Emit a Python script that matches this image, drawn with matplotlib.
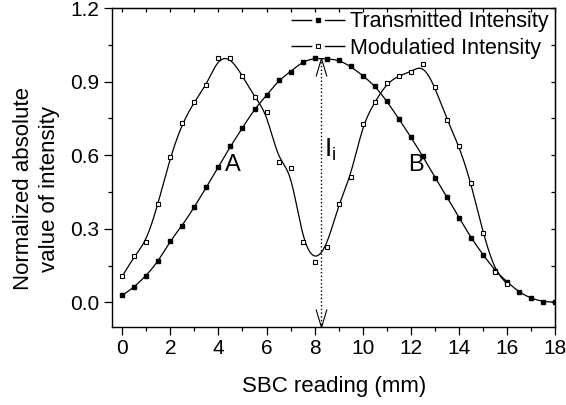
import numpy as np
import matplotlib
matplotlib.use('Agg')
import matplotlib.pyplot as plt
from matplotlib.path import Path
from matplotlib.ticker import MultipleLocator

plt.rcParams['font.family'] = ['Liberation Sans', 'DejaVu Sans']

# ---data
x_trans = np.arange(0, 18.01, 0.5)
y_trans = [0.028, 0.062, 0.109, 0.167, 0.251, 0.313, 0.389, 0.469, 0.553, 0.636,
           0.712, 0.788, 0.844, 0.905, 0.941, 0.982, 0.996, 0.993, 0.989, 0.962,
           0.925, 0.883, 0.821, 0.748, 0.674, 0.595, 0.508, 0.430, 0.345, 0.263,
           0.194, 0.129, 0.083, 0.041, 0.016, 0.002, 0.001]

x_mod = np.arange(0, 16.01, 0.5)
y_mod = [0.106, 0.187, 0.247, 0.403, 0.593, 0.731, 0.818, 0.886, 0.998, 0.998,
         0.924, 0.838, 0.775, 0.573, 0.546, 0.247, 0.166, 0.224, 0.402, 0.512,
         0.727, 0.817, 0.894, 0.924, 0.940, 0.971, 0.879, 0.744, 0.639, 0.487,
         0.281, 0.125, 0.076]

peak_x = 8.27
peak_y = 0.996


def bspline(x, y, n=30):
	# uniform cubic b-spline with the points as control points (Origin style)
	P = np.column_stack([x, y]).astype(float)
	P = np.vstack([P[:1], P[:1], P, P[-1:], P[-1:]])
	t = np.linspace(0, 1, n)
	b0 = (1 - t) ** 3 / 6
	b1 = (3 * t ** 3 - 6 * t ** 2 + 4) / 6
	b2 = (-3 * t ** 3 + 3 * t ** 2 + 3 * t + 1) / 6
	b3 = t ** 3 / 6
	out = []
	for i in range(len(P) - 3):
		seg = (np.outer(b0, P[i]) + np.outer(b1, P[i + 1]) +
		       np.outer(b2, P[i + 2]) + np.outer(b3, P[i + 3]))
		out.append(seg)
	out = np.vstack(out)
	return out[:, 0], out[:, 1]


fig = plt.figure(figsize=(5.66, 4.05), dpi=100)
ax = fig.add_axes([0.198, 0.193, 0.783, 0.787])

cx, cy = bspline(x_trans, y_trans)
ax.plot(cx, cy, color='black', lw=0.9)
ax.plot(x_trans, y_trans, ls='none', marker='s', ms=3.2, color='black')
cx, cy = bspline(x_mod, y_mod)
ax.plot(cx, cy, color='black', lw=0.9)
ax.plot(x_mod, y_mod, ls='none', marker='s', ms=3.0, mfc='white', mec='black', mew=0.8)

# legend handles: dash - marker - dash
ax.plot([], [], color='black', lw=1.0, ls=(0, (15, 9)), marker='s', ms=3.2,
        label='Transmitted Intensity')
ax.plot([], [], color='black', lw=1.0, ls=(0, (15, 9)), marker='s', ms=3.0, mfc='white',
        mew=0.8, label='Modulatied Intensity')
h, l = ax.get_legend_handles_labels()
ax.legend(h[-2:], l[-2:], loc='upper right', bbox_to_anchor=(1.015, 1.03), frameon=False,
          fontsize=15.5, handlelength=2.5, handletextpad=0.25, labelspacing=0.25,
          borderaxespad=0.2)

# dotted guide with open arrow heads
ax.plot([peak_x, peak_x], [peak_y, -0.1], ls=':', color='black', lw=1)
vee_up = Path([(-0.3, -1), (0, 0), (0.3, -1)], [Path.MOVETO, Path.LINETO, Path.LINETO])
vee_dn = Path([(-0.3, 1), (0, 0), (0.3, 1)], [Path.MOVETO, Path.LINETO, Path.LINETO])
ax.plot([peak_x], [peak_y], marker=vee_up, ms=26, mfc='none', mec='black', mew=0.8,
        clip_on=False)
ax.plot([peak_x], [-0.1], marker=vee_dn, ms=26, mfc='none', mec='black', mew=0.8,
        clip_on=False)

ax.text(8.65, 0.62, r'$\mathregular{I_i}$', fontsize=19, ha='center', va='center')
ax.text(4.6, 0.56, 'A', fontsize=17, ha='center', va='center')
ax.text(12.2, 0.56, 'B', fontsize=17, ha='center', va='center')

ax.set_xlim(-0.42, 18)
ax.set_ylim(-0.1, 1.2)
ax.xaxis.set_major_locator(MultipleLocator(2))
ax.xaxis.set_minor_locator(MultipleLocator(1))
ax.yaxis.set_major_locator(MultipleLocator(0.3))
ax.yaxis.set_minor_locator(MultipleLocator(0.15))
ax.set_yticks([0.0, 0.3, 0.6, 0.9, 1.2])
ax.set_yticklabels(['0.0', '0.3', '0.6', '0.9', '1.2'])
ax.tick_params(which='both', direction='out', top=False, right=False, labelsize=15, width=0.9)
ax.tick_params(which='major', length=6, pad=3)
ax.tick_params(which='minor', length=3)

# inward ticks on top and right like Origin
sec = ax.secondary_xaxis('top')
sec.xaxis.set_major_locator(MultipleLocator(1))
sec.tick_params(direction='in', length=3, labeltop=False, width=0.9)
secy = ax.secondary_yaxis('right')
secy.yaxis.set_major_locator(MultipleLocator(0.15))
secy.tick_params(direction='in', length=3, labelright=False, width=0.9)
for s in ax.spines.values():
	s.set_linewidth(1.0)

ax.set_xlabel('SBC reading (mm)', fontsize=16, labelpad=13)
ax.set_ylabel('Normalized absolute\nvalue of intensity', fontsize=16, linespacing=1.3)
ax.yaxis.set_label_coords(-0.117, 0.433)

fig.savefig('out.png', dpi=100)
